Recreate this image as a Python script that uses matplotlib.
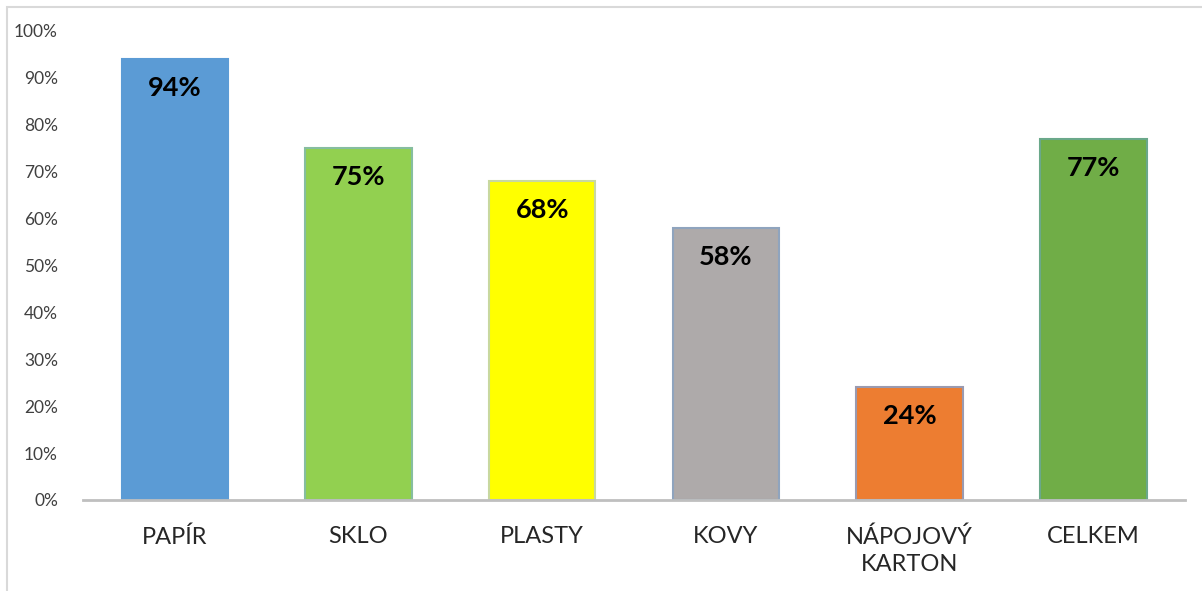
import matplotlib.pyplot as plt
from matplotlib.patches import Rectangle
from matplotlib.ticker import PercentFormatter

categories = ['PAPÍR', 'SKLO', 'PLASTY', 'KOVY', 'NÁPOJOVÝ\nKARTON', 'CELKEM']
values = [94, 75, 68, 58, 24, 77]
colors = ['#5B9BD5', '#92D050', '#FFFF00', '#AEAAAA', '#ED7D31', '#70AD47']
edges = ['#5B9BD5', '#86BDA0', '#C8D8A0', '#8FA4BE', '#9A9AB0', '#6AA88A']

plt.rcParams['font.family'] = ['Lato', 'DejaVu Sans']

fig = plt.figure(figsize=(12.02, 5.91), dpi=100)
ax = fig.add_axes([0.069, 0.154, 0.917, 0.794])

x = range(len(categories))
ax.bar(x, values, width=0.58, color=colors, edgecolor=edges, linewidth=1.5, zorder=2)

for i, v in enumerate(values):
    ax.text(i, v - 6.2, '{}%'.format(v), ha='center', va='center',
            fontsize=19.5, fontweight='bold', color='black', zorder=3)

ax.set_xlim(-0.5, 5.5)
ax.set_ylim(0, 100)
ax.set_yticks(range(0, 101, 10))
ax.yaxis.set_major_formatter(PercentFormatter(decimals=0))
ax.set_xticks(list(x))
ax.set_xticklabels(categories, fontsize=17, color='#262626', linespacing=1.35)

for side in ['top', 'right', 'left']:
    ax.spines[side].set_visible(False)
ax.spines['bottom'].set_color('#BFBFBF')
ax.spines['bottom'].set_linewidth(2)
ax.tick_params(axis='y', length=0, labelsize=12.5, labelcolor='#404040', pad=18)
ax.tick_params(axis='x', length=0, pad=19)

# outer chart frame
fig.patches.append(Rectangle((7 / 1202, -0.1), 1.2, 1 - 7 / 591 + 0.1,
                             transform=fig.transFigure, fill=False,
                             edgecolor='#D9D9D9', linewidth=1.5))

fig.savefig('out.png', dpi=100)
